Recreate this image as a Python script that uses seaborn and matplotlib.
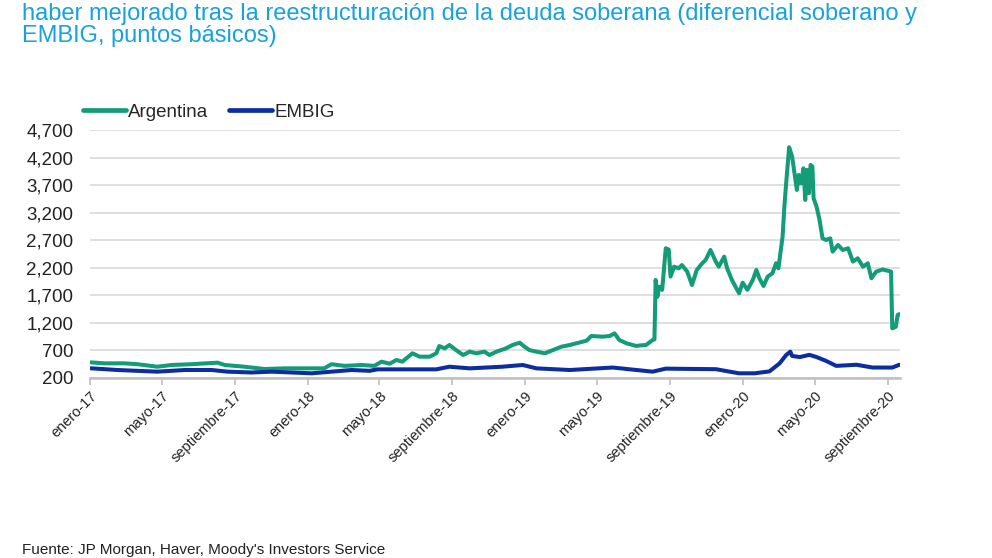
import matplotlib
matplotlib.use('Agg')
import matplotlib.pyplot as plt
import pandas as pd
import seaborn as sns

# Argentina sovereign spread (bps)
arg_dates = [
    '2017-01-02', '2017-01-25', '2017-02-28', '2017-03-22', '2017-04-24', '2017-05-18',
    '2017-06-20', '2017-08-03', '2017-08-15', '2017-09-17', '2017-10-21', '2017-11-23',
    '2017-12-27', '2018-01-29', '2018-02-10', '2018-03-04', '2018-04-02', '2018-04-23',
    '2018-05-05', '2018-05-19', '2018-05-30', '2018-06-09', '2018-06-26', '2018-07-08',
    '2018-07-25', '2018-08-05', '2018-08-10', '2018-08-19', '2018-08-27', '2018-09-07',
    '2018-09-19', '2018-09-30', '2018-10-11', '2018-10-25', '2018-11-02', '2018-11-14',
    '2018-11-30', '2018-12-11', '2018-12-23', '2018-12-31', '2019-01-08', '2019-01-20',
    '2019-02-03', '2019-02-17', '2019-03-03', '2019-03-17', '2019-03-28', '2019-04-14',
    '2019-04-22', '2019-05-11', '2019-05-23', '2019-05-31', '2019-06-08', '2019-06-20',
    '2019-07-07', '2019-07-12', '2019-07-23', '2019-08-03', '2019-08-06', '2019-08-08',
    '2019-08-11', '2019-08-14', '2019-08-19', '2019-08-25', '2019-08-30', '2019-09-02',
    '2019-09-08', '2019-09-16', '2019-09-21', '2019-09-30', '2019-10-08', '2019-10-16',
    '2019-10-25', '2019-10-31', '2019-11-08', '2019-11-17', '2019-11-22', '2019-12-01',
    '2019-12-06', '2019-12-14', '2019-12-26', '2020-01-01', '2020-01-09', '2020-01-18',
    '2020-01-24', '2020-01-29', '2020-02-05', '2020-02-12', '2020-02-20', '2020-02-26',
    '2020-03-01', '2020-03-08', '2020-03-11', '2020-03-14', '2020-03-19', '2020-03-24',
    '2020-03-28', '2020-04-01', '2020-04-04', '2020-04-08', '2020-04-12', '2020-04-15',
    '2020-04-18', '2020-04-21', '2020-04-24', '2020-04-27', '2020-04-29', '2020-05-04',
    '2020-05-09', '2020-05-14', '2020-05-20', '2020-05-27', '2020-05-31', '2020-06-09',
    '2020-06-17', '2020-06-26', '2020-07-04', '2020-07-12', '2020-07-21', '2020-07-29',
    '2020-08-04', '2020-08-12', '2020-08-23', '2020-09-06', '2020-09-08', '2020-09-14',
    '2020-09-17', '2020-09-20',
]
arg_values = [
    484, 466, 466, 450, 405, 436,
    450, 478, 436, 405, 363, 375,
    375, 375, 450, 420, 436, 420,
    496, 460, 527, 496, 648, 587,
    587, 648, 780, 738, 799, 708,
    617, 678, 648, 678, 617, 678,
    738, 799, 840, 768, 708, 678,
    648, 708, 768, 799, 830, 877,
    962, 950, 962, 1010, 890, 830,
    780, 790, 799, 890, 900, 1979,
    1676, 1857, 1800, 2554, 2530, 2040,
    2220, 2190, 2250, 2130, 1888, 2160,
    2280, 2342, 2523, 2310, 2220, 2402,
    2190, 1979, 1737, 1930, 1800, 1979,
    2160, 2010, 1870, 2040, 2100, 2282,
    2190, 2765, 3310, 3733, 4387, 4217,
    3915, 3612, 3884, 3733, 4005, 3430,
    3975, 3552, 4066, 4036, 3461, 3310,
    3068, 2735, 2705, 2735, 2493, 2614,
    2523, 2554, 2312, 2372, 2220, 2282,
    2010, 2130, 2170, 2130, 1100, 1130,
    1343, 1360,
]

# EMBIG spread (bps)
embig_dates = [
    '2017-01-02', '2017-02-16', '2017-04-24', '2017-06-09', '2017-07-24', '2017-08-20',
    '2017-09-29', '2017-11-02', '2017-12-05', '2018-01-08', '2018-02-10', '2018-03-16',
    '2018-04-15', '2018-04-28', '2018-06-09', '2018-08-05', '2018-08-27', '2018-09-30',
    '2018-11-24', '2018-12-28', '2019-01-20', '2019-03-17', '2019-05-28', '2019-07-07',
    '2019-08-03', '2019-08-25', '2019-10-03', '2019-11-17', '2019-12-26', '2020-01-21',
    '2020-02-15', '2020-03-03', '2020-03-14', '2020-03-21', '2020-03-24', '2020-04-06',
    '2020-04-22', '2020-05-04', '2020-05-20', '2020-06-06', '2020-07-10', '2020-08-06',
    '2020-09-08', '2020-09-20',
]
embig_values = [
    376, 345, 315, 345, 345, 315,
    300, 315, 300, 285, 315, 345,
    330, 357, 357, 357, 405, 375,
    405, 436, 375, 345, 390, 345,
    315, 370, 365, 360, 285, 285,
    320, 466, 617, 678, 600, 580,
    620, 580, 510, 420, 440, 390,
    390, 440,
]

tick_dates = ['2017-01-01', '2017-05-01', '2017-09-01', '2018-01-01', '2018-05-01',
              '2018-09-01', '2019-01-01', '2019-05-01', '2019-09-01', '2020-01-01',
              '2020-05-01', '2020-09-01']
tick_labels = ['enero-17', 'mayo-17', 'septiembre-17', 'enero-18', 'mayo-18',
               'septiembre-18', 'enero-19', 'mayo-19', 'septiembre-19', 'enero-20',
               'mayo-20', 'septiembre-20']
y_ticks = [200, 700, 1200, 1700, 2200, 2700, 3200, 3700, 4200, 4700]

sns.set_style('white')
plt.rcParams['font.family'] = ['Liberation Sans', 'DejaVu Sans']

green = '#139C77'
blue = '#0B2DA0'

arg = pd.DataFrame({'fecha': pd.to_datetime(arg_dates), 'pb': arg_values})
embig = pd.DataFrame({'fecha': pd.to_datetime(embig_dates), 'pb': embig_values})

fig = plt.figure(figsize=(9.92, 5.58), dpi=100)
ax = fig.add_axes([90 / 992, 1 - 378 / 558, 810 / 992, 248 / 558])

sns.lineplot(data=arg, x='fecha', y='pb', ax=ax, color=green, linewidth=2.9, label='Argentina')
sns.lineplot(data=embig, x='fecha', y='pb', ax=ax, color=blue, linewidth=2.9, label='EMBIG')

ax.set_xlim(pd.Timestamp('2017-01-01'), pd.Timestamp('2020-09-21'))
ax.set_ylim(200, 4700)
ax.set_yticks(y_ticks)
ax.set_yticklabels([f'{v:,}' for v in y_ticks], fontsize=13.5, color='#222222')
ax.set_xticks(pd.to_datetime(tick_dates))
ax.set_xticklabels(tick_labels, rotation=45, ha='right', rotation_mode='anchor',
                   fontsize=10.5, color='#222222')
ax.set_xlabel('')
ax.set_ylabel('')

ax.yaxis.grid(True, color='#D9D9D9', linewidth=1.2)
ax.set_axisbelow(True)
for side in ['top', 'right', 'left']:
    ax.spines[side].set_visible(False)
ax.spines['bottom'].set_color('#BFBFBF')
ax.spines['bottom'].set_linewidth(1.8)
ax.tick_params(axis='x', length=5, width=1.2, color='#BFBFBF', pad=3, direction='out', bottom=True)
ax.tick_params(axis='y', length=0, pad=12)

leg = ax.legend(loc='lower left', bbox_to_anchor=(-0.02, 1.0), ncol=2, frameon=False,
                fontsize=13.5, handlelength=2.3, handletextpad=0.1, columnspacing=1.1,
                borderaxespad=0.1)
for line in leg.get_lines():
    line.set_linewidth(3.4)

fig.text(22 / 992, 1 - 3 / 558,
         'haber mejorado tras la reestructuración de la deuda soberana (diferencial soberano y\n'
         'EMBIG, puntos básicos)',
         fontsize=17, color='#17A2DC', va='top', ha='left', linespacing=1.0)

fig.text(22 / 992, 1 / 558, "Fuente: JP Morgan, Haver, Moody's Investors Service",
         fontsize=11, color='#222222', va='bottom', ha='left')

fig.savefig('out.png', dpi=100)
